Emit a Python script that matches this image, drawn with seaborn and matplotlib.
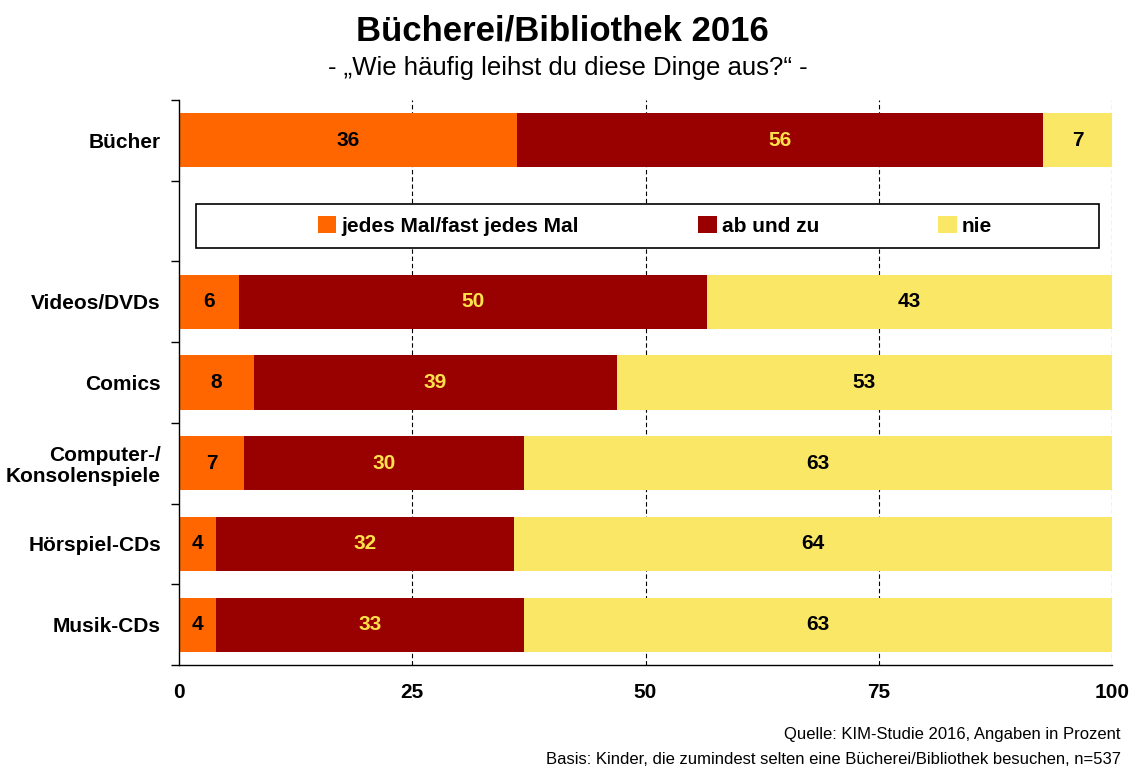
import pandas as pd
import matplotlib.pyplot as plt
import seaborn as sns
from matplotlib.patches import Rectangle, Patch

# categories (blank slot holds the legend)
categories = ['Bücher', ' ', 'Videos/DVDs', 'Comics',
              'Computer-/\nKonsolenspiele', 'Hörspiel-CDs', 'Musik-CDs']
jedes_mal = [36.2, 0, 6.4, 8.0, 7.0, 4.0, 4.0]
ab_und_zu = [56.4, 0, 50.2, 38.9, 30.0, 31.9, 33.0]
nie = [7.4, 0, 43.4, 53.1, 63.0, 64.1, 63.0]

# printed labels
lbl_jedes = ['36', '', '6', '8', '7', '4', '4']
lbl_ab = ['56', '', '50', '39', '30', '32', '33']
lbl_nie = ['7', '', '43', '53', '63', '64', '63']

series_names = ['jedes Mal/fast jedes Mal', 'ab und zu', 'nie']
colors = ['#FF6600', '#990000', '#FAE765']
label_colors = ['black', '#FFE24A', 'black']

sns.set_style('white')
FONT = ['Liberation Sans', 'DejaVu Sans']
plt.rcParams['font.family'] = FONT
plt.rcParams['text.color'] = 'black'
plt.rcParams['xtick.color'] = 'black'
plt.rcParams['ytick.color'] = 'black'

df = pd.DataFrame({'cat': categories, 'a': jedes_mal, 'b': ab_und_zu, 'c': nie})
df['cum1'] = df['a']
df['cum2'] = df['a'] + df['b']
df['cum3'] = df['a'] + df['b'] + df['c']

fig = plt.figure(figsize=(11.31, 7.67), dpi=100)
ax = fig.add_axes([0.1583, 0.1330, 0.8249, 0.7366])

# stacked bars: draw totals first, then overlay
for col, c in zip(['cum3', 'cum2', 'cum1'], colors[::-1]):
    sns.barplot(data=df, x=col, y='cat', order=categories, color=c,
                saturation=1, width=0.67, errorbar=None, ax=ax, zorder=2,
                linewidth=0)

# value labels
for i in range(len(categories)):
    starts = [0, df['cum1'][i], df['cum2'][i]]
    widths = [jedes_mal[i], ab_und_zu[i], nie[i]]
    texts = [lbl_jedes[i], lbl_ab[i], lbl_nie[i]]
    for s, w, t, tc in zip(starts, widths, texts, label_colors):
        if t:
            ax.text(s + w / 2, i, t, ha='center', va='center', fontsize=15,
                    fontweight='bold', color=tc, zorder=4)

ax.set_xlim(0, 100)
ax.set_ylim(6.5, -0.5)
for xv in [25, 50, 75, 100]:
    ax.axvline(xv, color='black', lw=0.8, ls=(0, (4, 2.5)), zorder=1)

ax.set_xticks([0, 25, 50, 75, 100])
ax.set_xticklabels(['0', '25', '50', '75', '100'], fontsize=15, fontweight='bold')
ax.tick_params(axis='x', length=4, width=1, pad=9, direction='out')
ax.set_yticks(range(len(categories)))
ax.set_yticklabels(categories, fontsize=15, fontweight='bold', linespacing=1.12)
ax.tick_params(axis='y', which='major', length=0, pad=13)
ax.set_yticks([i - 0.5 for i in range(len(categories) + 1)], minor=True)
ax.tick_params(axis='y', which='minor', length=6, width=1, direction='out', left=True)
ax.set_xlabel('')
ax.set_ylabel('')
for side in ['top', 'right']:
    ax.spines[side].set_visible(False)
for side in ['left', 'bottom']:
    ax.spines[side].set_color('black')
    ax.spines[side].set_linewidth(1.0)

# legend box in the blank slot
ax.add_patch(Rectangle((1.8, 1.06 - 0.27), 96.8, 0.545, facecolor='white',
                       edgecolor='black', lw=1.2, zorder=3))
handles = [Patch(facecolor=c, edgecolor='none') for c in colors]
leg = ax.legend(handles, series_names, ncol=3, frameon=False,
                loc='center', bbox_to_anchor=(51.0, 1.06),
                bbox_transform=ax.transData,
                prop={'family': FONT, 'weight': 'bold', 'size': 15},
                handlelength=0.9, handleheight=0.9, handletextpad=0.25,
                columnspacing=5.7)
leg.set_zorder(5)

fig.text(0.497, 0.960, 'Bücherei/Bibliothek 2016', ha='center', va='center',
         fontsize=25, fontweight='bold')
fig.text(0.502, 0.911, '- „Wie häufig leihst du diese Dinge aus?“ -', ha='center',
         va='center', fontsize=18.5)
fig.text(0.991, 0.042, 'Quelle: KIM-Studie 2016, Angaben in Prozent', ha='right',
         va='center', fontsize=12)
fig.text(0.991, 0.010, 'Basis: Kinder, die zumindest selten eine Bücherei/Bibliothek besuchen, n=537',
         ha='right', va='center', fontsize=12)

fig.savefig('out.png', dpi=100)
